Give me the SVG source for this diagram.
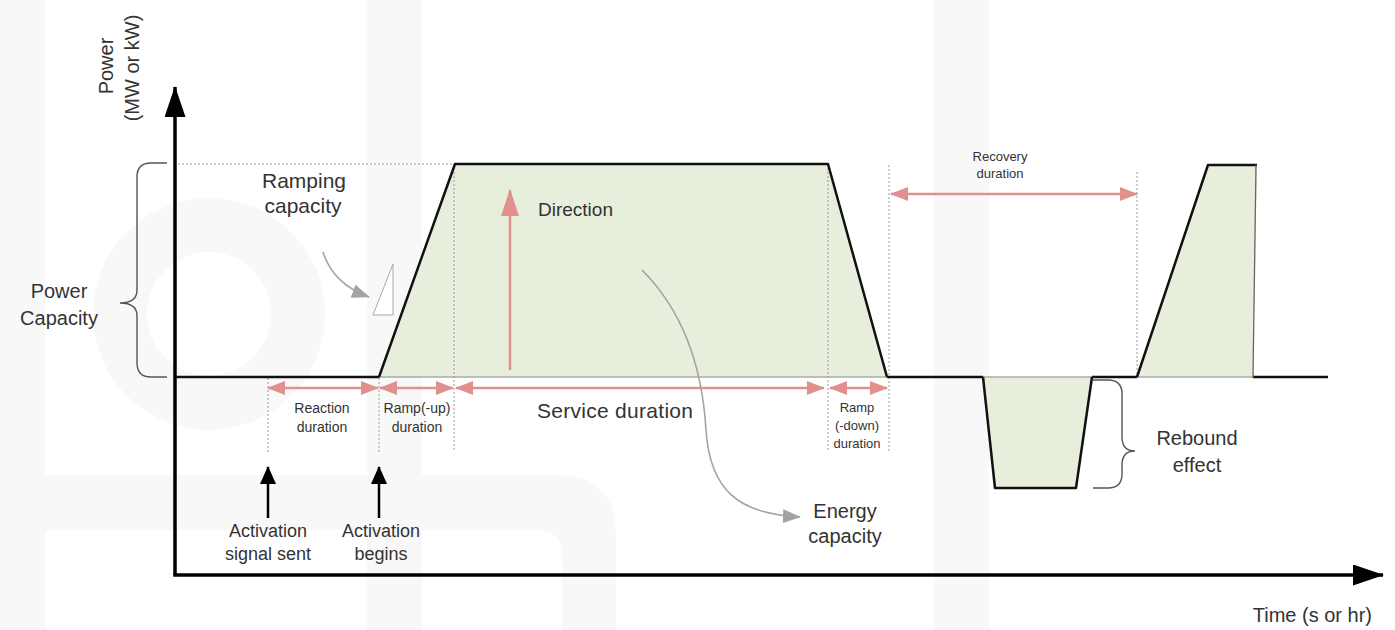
<svg xmlns="http://www.w3.org/2000/svg" width="1395" height="630" viewBox="0 0 1395 630">
<style>
text{font-family:"Liberation Sans","DejaVu Sans",sans-serif;fill:#333}
.c{text-anchor:middle}
.wm{fill:#f8f8f8}
.blk{stroke:#111;stroke-width:2.5;fill:none;stroke-linejoin:round}
.base{stroke:#111;stroke-width:2.5}
.gbase{stroke:#aaa;stroke-width:1.5}
.dot{stroke:#9a9a9a;stroke-width:1;stroke-dasharray:2,2;fill:none}
.fill{fill:#e7eedc;stroke:none}
.red{stroke:#e0918d;stroke-width:2.5;fill:none}
.gray{stroke:#a3a3a3;stroke-width:1.6;fill:none}
.axis{stroke:#000;stroke-width:3.5;fill:none}
.brace{stroke:#555;stroke-width:1.4;fill:none}
.s13{font-size:13px}.s14{font-size:14px}.s18{font-size:18px}.s19{font-size:19px}.s20{font-size:20px}.s21{font-size:21px}
</style>
<defs>
<marker id="rh" viewBox="0 0 18 14" refX="17" refY="7" markerWidth="18" markerHeight="14" markerUnits="userSpaceOnUse" orient="auto-start-reverse"><path d="M0,0 L18,7 L0,14 Z" fill="#e0918d"/></marker>
<marker id="rbig" viewBox="0 0 27 18" refX="26" refY="9" markerWidth="27" markerHeight="18" markerUnits="userSpaceOnUse" orient="auto"><path d="M0,0 L27,9 L0,18 Z" fill="#e0918d"/></marker>
<marker id="bh" viewBox="0 0 18 16" refX="17" refY="8" markerWidth="18" markerHeight="16" markerUnits="userSpaceOnUse" orient="auto"><path d="M0,0 L18,8 L0,16 Z" fill="#000"/></marker>
<marker id="ax" viewBox="0 0 31 21" refX="30" refY="10.5" markerWidth="31" markerHeight="21" markerUnits="userSpaceOnUse" orient="auto"><path d="M0,0 L31,10.5 L0,21 Z" fill="#000"/></marker>
<marker id="gh" viewBox="0 0 18 14" refX="17" refY="7" markerWidth="18" markerHeight="14" markerUnits="userSpaceOnUse" orient="auto"><path d="M0,0 L18,7 L0,14 Z" fill="#a3a3a3"/></marker>
</defs>
<rect width="1395" height="630" fill="#fff"/>
<g id="watermark">
<path class="wm" fill-rule="evenodd" d="M93,314 a116,116 0 1,0 232,0 a116,116 0 1,0 -232,0 Z M147,314 a62,62 0 1,0 124,0 a62,62 0 1,0 -124,0 Z"/>
<rect class="wm" x="0" y="0" width="45" height="630"/>
<path class="wm" d="M45,475 H556 Q616,475 616,535 V630 H562 V555 Q562,530 537,530 H45 Z"/>
<rect class="wm" x="367" y="0" width="55" height="630"/>
<rect class="wm" x="934" y="0" width="55" height="630"/>
</g>
<g id="areas">
<polygon class="fill" points="379,377 455,164 828,164 887,377"/>
<polygon class="fill" points="983,377 995,488 1076,488 1092,377"/>
<polygon class="fill" points="1137,377 1208,165 1257,165 1253,377"/>
</g>
<g id="guides">
<line class="dot" x1="178" y1="164" x2="455" y2="164"/>
<line class="dot" x1="268" y1="378" x2="268" y2="452"/>
<line class="dot" x1="379" y1="378" x2="379" y2="452"/>
<line class="dot" x1="454" y1="164" x2="454" y2="452"/>
<line class="dot" x1="828" y1="164" x2="828" y2="452"/>
<line class="dot" x1="889" y1="165" x2="889" y2="452"/>
<line class="dot" x1="1137" y1="172" x2="1137" y2="377"/>
</g>
<g id="profile">
<line class="gbase" x1="379" y1="377" x2="887" y2="377"/>
<line class="gbase" x1="983" y1="377" x2="1092" y2="377"/>
<line class="gbase" x1="1137" y1="377" x2="1253" y2="377"/>
<line class="base" x1="175" y1="377" x2="379" y2="377"/>
<line class="base" x1="887" y1="377" x2="983" y2="377"/>
<line class="base" x1="1092" y1="377" x2="1137" y2="377"/>
<line class="base" x1="1253" y1="377" x2="1328" y2="377"/>
<polyline class="blk" points="379,377 455,164 828,164 887,377"/>
<polyline class="blk" points="983,377 995,488 1076,488 1092,377"/>
<polyline class="blk" points="1137,377 1208,165 1257,165"/>
<line x1="1256" y1="165" x2="1253" y2="377" stroke="#666" stroke-width="1.3"/>
</g>
<g id="axes">
<line class="axis" x1="175" y1="575" x2="175" y2="87" marker-end="url(#ax)"/>
<line class="axis" x1="173.3" y1="575" x2="1383" y2="575" marker-end="url(#ax)"/>
</g>
<g id="connectors">
<line class="red" x1="268" y1="388" x2="378" y2="388" marker-start="url(#rh)" marker-end="url(#rh)"/>
<line class="red" x1="380" y1="388" x2="453" y2="388" marker-start="url(#rh)" marker-end="url(#rh)"/>
<line class="red" x1="456" y1="388" x2="824" y2="388" marker-start="url(#rh)" marker-end="url(#rh)"/>
<line class="red" x1="830" y1="388" x2="887" y2="388" marker-start="url(#rh)" marker-end="url(#rh)"/>
<line class="red" x1="891" y1="194" x2="1137" y2="194" marker-start="url(#rh)" marker-end="url(#rh)"/>
<line class="red" x1="510" y1="370" x2="510" y2="190" marker-end="url(#rbig)"/>
<line stroke="#000" stroke-width="2.5" x1="268" y1="518" x2="268" y2="467" marker-end="url(#bh)"/>
<line stroke="#000" stroke-width="2.5" x1="379" y1="518" x2="379" y2="467" marker-end="url(#bh)"/>
<path class="gray" d="M323,252 Q333,284 369,297" marker-end="url(#gh)"/>
<path class="gray" d="M642,270 C690,318 703,380 706,430 C710,490 738,514 800,517" marker-end="url(#gh)"/>
</g>
<g id="ramp-triangle">
<polygon points="373,315 393,315 393,264" fill="#fff" stroke="#aaa" stroke-width="1"/>
</g>
<g id="power-capacity">
<path class="brace" d="M167,163 H151 Q137,163 137,177 V290 Q137,303 120,303 Q137,303 137,316 V363 Q137,377 151,377 H167"/>
<text class="c s20" x="59" y="298">Power</text>
<text class="c s20" x="59" y="325">Capacity</text>
</g>
<g id="rebound">
<path class="brace" d="M1093,380 H1108 Q1122,380 1122,394 V437 Q1122,451 1135,451 Q1122,451 1122,465 V474 Q1122,488 1108,488 H1093"/>
<text class="c s20" x="1197" y="445">Rebound</text>
<text class="c s20" x="1197" y="472">effect</text>
</g>
<g id="labels">
<text class="c s20" transform="translate(113,66) rotate(-90)">Power</text>
<text class="c s20" transform="translate(139,68) rotate(-90)">(MW or kW)</text>
<text class="c s21" x="304" y="188">Ramping</text>
<text class="c s21" x="303" y="213">capacity</text>
<text class="s19" x="538" y="216">Direction</text>
<text class="c s14" x="322" y="413">Reaction</text>
<text class="c s14" x="322" y="432">duration</text>
<text class="c s14" x="417" y="413">Ramp(-up)</text>
<text class="c s14" x="417" y="432">duration</text>
<text class="s21" x="537" y="418" textLength="156">Service duration</text>
<text class="c s13" x="857" y="412">Ramp</text>
<text class="c s13" x="857" y="430">(-down)</text>
<text class="c s13" x="857" y="448">duration</text>
<text class="c s13" x="1000" y="161">Recovery</text>
<text class="c s13" x="1000" y="178">duration</text>
<text class="c s18" x="268" y="537">Activation</text>
<text class="c s18" x="268" y="560">signal sent</text>
<text class="c s18" x="381" y="537">Activation</text>
<text class="c s18" x="381" y="560">begins</text>
<text class="c s20" x="845" y="518">Energy</text>
<text class="c s20" x="845" y="543">capacity</text>
<text class="s20" x="1372" y="622" text-anchor="end">Time (s or hr)</text>
</g>
</svg>
